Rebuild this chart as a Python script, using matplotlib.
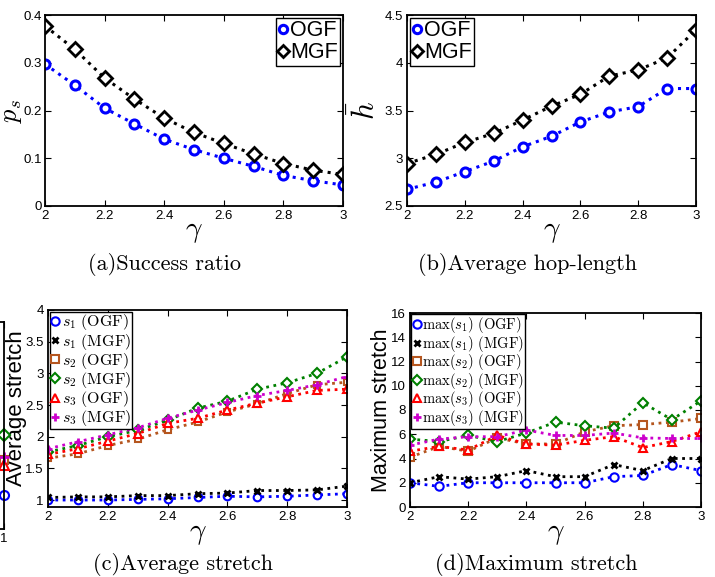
import matplotlib.pyplot as plt
from matplotlib.lines import Line2D

plt.rcParams['font.family'] = ['Liberation Sans', 'DejaVu Sans']
plt.rcParams['mathtext.fontset'] = 'cm'

gamma = [2.0, 2.1, 2.2, 2.3, 2.4, 2.5, 2.6, 2.7, 2.8, 2.9, 3.0]
gamma_ticks = [2, 2.2, 2.4, 2.6, 2.8, 3]
gamma_labels = ["2", "2.2", "2.4", "2.6", "2.8", "3"]

# (a) success ratio
ps_ogf = [0.297, 0.253, 0.205, 0.172, 0.140, 0.118, 0.100, 0.083, 0.064, 0.053, 0.044]
ps_mgf = [0.377, 0.328, 0.268, 0.224, 0.184, 0.154, 0.131, 0.109, 0.089, 0.075, 0.066]

# (b) average hop-length
h_ogf = [2.675, 2.75, 2.86, 2.97, 3.12, 3.23, 3.38, 3.485, 3.54, 3.73, 3.73]
h_mgf = [2.945, 3.04, 3.165, 3.26, 3.40, 3.545, 3.67, 3.86, 3.925, 4.05, 4.345]

# (c) average stretch
avg_s1_ogf = [1.0, 1.0, 1.0, 1.01, 1.02, 1.04, 1.06, 1.05, 1.06, 1.08, 1.10]
avg_s1_mgf = [1.04, 1.05, 1.05, 1.07, 1.07, 1.10, 1.11, 1.15, 1.15, 1.16, 1.22]
avg_s2_ogf = [1.66, 1.73, 1.86, 1.96, 2.11, 2.23, 2.39, 2.52, 2.68, 2.82, 2.86]
avg_s2_mgf = [1.76, 1.86, 2.0, 2.1, 2.26, 2.45, 2.56, 2.75, 2.85, 3.0, 3.26]
avg_s3_ogf = [1.72, 1.81, 1.93, 2.05, 2.21, 2.29, 2.42, 2.53, 2.63, 2.73, 2.75]
avg_s3_mgf = [1.81, 1.92, 2.03, 2.14, 2.29, 2.42, 2.54, 2.65, 2.73, 2.82, 2.95]

# (d) maximum stretch
max_s1_ogf = [2.0, 1.7, 2.0, 2.0, 2.0, 2.0, 2.0, 2.5, 2.6, 3.5, 3.0]
max_s1_mgf = [2.0, 2.5, 2.3, 2.5, 3.0, 2.5, 2.5, 3.5, 3.0, 4.0, 4.0]
max_s2_ogf = [4.1, 5.0, 4.6, 5.7, 5.2, 5.2, 6.2, 6.7, 6.8, 7.0, 7.3]
max_s2_mgf = [5.6, 5.4, 5.9, 5.4, 6.1, 7.0, 6.7, 6.5, 8.6, 7.2, 8.75]
max_s3_ogf = [4.6, 5.0, 4.7, 5.9, 5.2, 5.1, 5.5, 5.8, 4.9, 5.4, 6.2]
max_s3_mgf = [5.1, 5.6, 5.8, 5.8, 6.35, 5.9, 5.9, 6.1, 5.7, 5.65, 5.65]

# neighbouring panel, only its right edge is visible
edge_x = [1]
edge_vals = {"s1 OGF": 1.39, "s2 OGF": 1.92, "s2 MGF": 2.3, "s3 OGF": 1.84, "s3 MGF": 1.97}

W, H = 715, 577
fig = plt.figure(figsize=(W / 100, H / 100), dpi=100)


def add_ax(left, top, right, bottom):
    return fig.add_axes([left / W, 1 - bottom / H, (right - left) / W, (bottom - top) / H])


def style_ax(ax):
    for sp in ax.spines.values():
        sp.set_linewidth(1.3)
        sp.set_color('black')
    ax.tick_params(direction='in', top=True, right=True, length=4, width=0.8,
                   labelsize=9.5, pad=3, colors='black')


def gamma_axis(ax):
    ax.set_xlim(2, 3)
    ax.set_xticks(gamma_ticks)
    ax.set_xticklabels(gamma_labels)
    ax.set_xlabel(r'$\gamma$', fontsize=21, labelpad=0)
    ax.xaxis.set_label_coords(0.5, -0.06)


styles = {
    "s1 OGF": dict(color='#0000ff', marker='o'),
    "s1 MGF": dict(color='black', marker='x'),
    "s2 OGF": dict(color='#b5561f', marker='s'),
    "s2 MGF": dict(color='#008000', marker='D'),
    "s3 OGF": dict(color='#ff0000', marker='^'),
    "s3 MGF": dict(color='#cc00cc', marker='+'),
}


def marker_kw(key, ms):
    st = styles[key]
    kw = dict(color=st['color'], marker=st['marker'], markersize=ms,
              markerfacecolor='white', markeredgecolor=st['color'], markeredgewidth=1.5)
    if st['marker'] == 'x':
        kw['markeredgewidth'] = 2.0
        kw['markersize'] = ms * 0.75
    if st['marker'] == '+':
        kw['markeredgewidth'] = 2.0
    if st['marker'] == 'D':
        kw['markersize'] = ms * 0.9
    if st['marker'] == 's':
        kw['markersize'] = ms * 0.9
    return kw


leg_kw = dict(fancybox=False, framealpha=1, edgecolor='black', handletextpad=0.1)

# ---- (a) success ratio
ax = add_ax(45, 15, 343, 206)
style_ax(ax)
ax.tick_params(axis='y', pad=2)
ax.plot(gamma, ps_ogf, ':', lw=2.2, color='#0000ff', marker='o', ms=6.5,
        mfc='white', mec='#0000ff', mew=2.2)
ax.plot(gamma, ps_mgf, ':', lw=2.2, color='black', marker='D', ms=6.8,
        mfc='white', mec='black', mew=2.0)
ax.set_ylim(0, 0.4)
ax.set_yticks([0, 0.1, 0.2, 0.3, 0.4])
ax.set_yticklabels(["0", "0.1", "0.2", "0.3", "0.4"])
gamma_axis(ax)
ax.set_ylabel(r'$p_s$', fontsize=19, labelpad=0)
ax.yaxis.set_label_coords(-0.07, 0.5)
handles = [Line2D([], [], ls='none', marker='o', ms=6, mfc='white', mec='#0000ff', mew=2.2),
           Line2D([], [], ls='none', marker='D', ms=6.5, mfc='white', mec='black', mew=2.0)]
leg = ax.legend(handles, ["OGF", "MGF"], loc='upper right', fontsize=15.5, handlelength=0.45,
                borderpad=0.1, labelspacing=0.05, borderaxespad=0.15, **leg_kw)
leg.get_frame().set_linewidth(1.0)

# ---- (b) average hop-length
ax = add_ax(407, 15, 696, 206)
style_ax(ax)
ax.plot(gamma, h_ogf, ':', lw=2.2, color='#0000ff', marker='o', ms=6.5,
        mfc='white', mec='#0000ff', mew=2.2)
ax.plot(gamma, h_mgf, ':', lw=2.2, color='black', marker='D', ms=6.8,
        mfc='white', mec='black', mew=2.0)
ax.set_ylim(2.5, 4.5)
ax.set_yticks([2.5, 3, 3.5, 4, 4.5])
ax.set_yticklabels(["2.5", "3", "3.5", "4", "4.5"])
gamma_axis(ax)
ax.set_ylabel(r'$\bar{h}$', fontsize=22, labelpad=0)
ax.yaxis.set_label_coords(-0.085, 0.5)
leg = ax.legend(handles, ["OGF", "MGF"], loc='upper left', fontsize=15.5, handlelength=0.45,
                borderpad=0.1, labelspacing=0.05, borderaxespad=0.15, **leg_kw)
leg.get_frame().set_linewidth(1.0)

# ---- (c) average stretch
ax = add_ax(48, 310, 347, 507)
style_ax(ax)
avg_series = [("s1 OGF", avg_s1_ogf), ("s1 MGF", avg_s1_mgf), ("s2 OGF", avg_s2_ogf),
              ("s2 MGF", avg_s2_mgf), ("s3 OGF", avg_s3_ogf), ("s3 MGF", avg_s3_mgf)]
for key, vals in avg_series:
    ax.plot(gamma, vals, ':', lw=2.0, **marker_kw(key, 5.5))
ax.set_ylim(0.89, 4)
ax.set_yticks([1, 1.5, 2, 2.5, 3, 3.5, 4])
ax.set_yticklabels(["1", "1.5", "2", "2.5", "3", "3.5", "4"])
gamma_axis(ax)
ax.set_ylabel('Average stretch', fontsize=16, labelpad=0)
ax.yaxis.set_label_coords(-0.07, 0.5)
avg_labels = [r'$s_1\ \mathrm{(OGF)}$', r'$s_1\ \mathrm{(MGF)}$', r'$s_2\ \mathrm{(OGF)}$',
              r'$s_2\ \mathrm{(MGF)}$', r'$s_3\ \mathrm{(OGF)}$', r'$s_3\ \mathrm{(MGF)}$']
hs = [Line2D([], [], ls='none', **marker_kw(k, 6)) for k, _ in avg_series]
leg = ax.legend(hs, avg_labels, loc='upper left', fontsize=11.5, handlelength=0.6,
                borderpad=0.05, labelspacing=-0.05, borderaxespad=0.1, **leg_kw)
leg.get_frame().set_linewidth(1.0)

# ---- (d) maximum stretch
ax = add_ax(410, 313, 701, 507)
style_ax(ax)
max_series = [("s1 OGF", max_s1_ogf), ("s1 MGF", max_s1_mgf), ("s2 OGF", max_s2_ogf),
              ("s2 MGF", max_s2_mgf), ("s3 OGF", max_s3_ogf), ("s3 MGF", max_s3_mgf)]
for key, vals in max_series:
    ax.plot(gamma, vals, ':', lw=2.0, **marker_kw(key, 6))
ax.set_ylim(0, 16)
ax.set_yticks(range(0, 17, 2))
gamma_axis(ax)
ax.set_ylabel('Maximum stretch', fontsize=15.5, labelpad=0)
ax.yaxis.set_label_coords(-0.061, 0.5)
max_labels = [r'$\max(s_1)\ \mathrm{(OGF)}$', r'$\max(s_1)\ \mathrm{(MGF)}$',
              r'$\max(s_2)\ \mathrm{(OGF)}$', r'$\max(s_2)\ \mathrm{(MGF)}$',
              r'$\max(s_3)\ \mathrm{(OGF)}$', r'$\max(s_3)\ \mathrm{(MGF)}$']
hs = [Line2D([], [], ls='none', **marker_kw(k, 6)) for k, _ in max_series]
leg = ax.legend(hs, max_labels, loc='upper left', fontsize=10.5, handlelength=0.6,
                borderpad=0.05, labelspacing=-0.1, borderaxespad=0.1, **leg_kw)
leg.get_frame().set_linewidth(1.0)

# ---- cut-off neighbour panel at the far left
ax = add_ax(-300, 322, 4, 529)
style_ax(ax)
for key, v in edge_vals.items():
    ax.plot(edge_x, [v], ls='none', clip_on=False, **marker_kw(key, 6.5))
ax.set_xlim(0, 1)
ax.set_ylim(0.88, 4)
ax.set_xticks([1])
ax.set_xticklabels(["1"])
ax.set_yticks([])

# captions
cap = dict(fontsize=16, family='cmr10', ha='center', va='center')
fig.text(165 / W, 1 - 265 / H, '(a)Success ratio', **cap)
fig.text(527 / W, 1 - 265 / H, '(b)Average hop-length', **cap)
fig.text(183 / W, 1 - 565 / H, '(c)Average stretch', **cap)
fig.text(536 / W, 1 - 565 / H, '(d)Maximum stretch', **cap)

fig.savefig('out.png', dpi=100)
